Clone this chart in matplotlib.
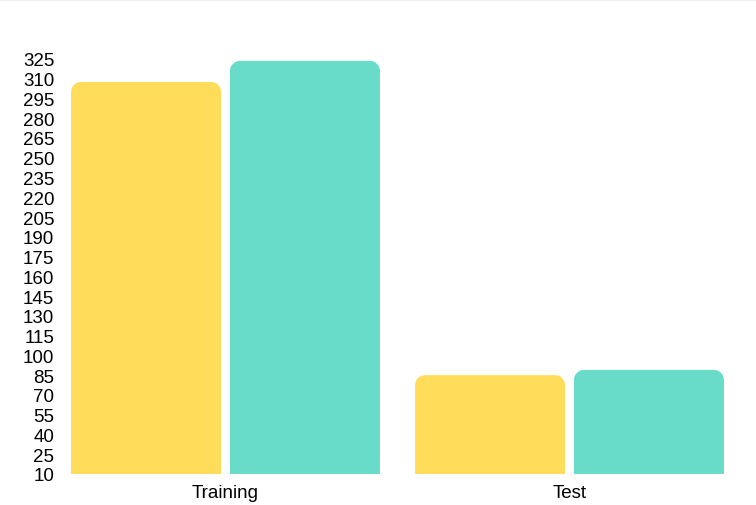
import matplotlib
matplotlib.use("Agg")
import matplotlib.pyplot as plt
from matplotlib.path import Path
import matplotlib.patches as mpatches
import numpy as np

categories = ["Training", "Test"]
series_a = [307.5, 85]     # yellow
series_b = [323.5, 89]     # teal
colors = ["#FFDC5A", "#69DCC9"]
yticks = list(range(10, 326, 15))

plt.rcParams['font.family'] = ['Liberation Sans', 'DejaVu Sans']

fig = plt.figure(figsize=(7.56, 5.06), dpi=100)
ax = fig.add_axes([0.0708, 0.0613, 0.910, 0.8203])

x = np.arange(len(categories))
w = 0.436
off = 0.231
bars = []
bars += list(ax.bar(x - off, np.array(series_a) - 10, w, bottom=10, color=colors[0]))
bars += list(ax.bar(x + off, np.array(series_b) - 10, w, bottom=10, color=colors[1]))

ax.set_xlim(-0.5, 1.5)
ax.set_ylim(10, 325)
ax.set_yticks(yticks)
ax.set_xticks(x)
ax.set_xticklabels(categories)
ax.tick_params(length=0, labelsize=13.5)
ax.tick_params(axis='y', pad=-0.5)
ax.tick_params(axis='x', pad=7.5)
for s in ax.spines.values():
    s.set_visible(False)

# rounded top corners: radius ~10px converted to data units
fig.canvas.draw()
bbox = ax.get_window_extent()
rx = 10 * 2.0 / bbox.width
ry = 10 * 315.0 / bbox.height
k = 0.5523
for b in bars:
    x0, y0 = b.get_x(), b.get_y()
    x1, y1 = x0 + b.get_width(), y0 + b.get_height()
    verts = [(x0, y0), (x0, y1 - ry),
             (x0, y1 - ry + k * ry), (x0 + rx - k * rx, y1), (x0 + rx, y1),
             (x1 - rx, y1),
             (x1 - rx + k * rx, y1), (x1, y1 - ry + k * ry), (x1, y1 - ry),
             (x1, y0), (x0, y0)]
    codes = [Path.MOVETO, Path.LINETO,
             Path.CURVE4, Path.CURVE4, Path.CURVE4,
             Path.LINETO,
             Path.CURVE4, Path.CURVE4, Path.CURVE4,
             Path.LINETO, Path.CLOSEPOLY]
    ax.add_patch(mpatches.PathPatch(Path(verts, codes), facecolor=b.get_facecolor(),
                                    edgecolor="none", clip_on=False))
    b.set_visible(False)

fig.add_artist(plt.Line2D([0, 1], [0.998, 0.998], color="#EEF0F0", lw=1.5))

fig.savefig("out.png", dpi=100)
